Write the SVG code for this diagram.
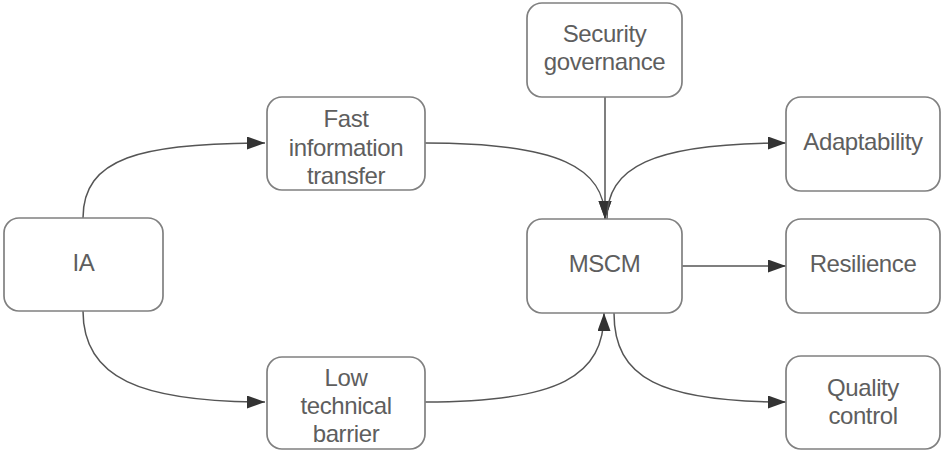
<svg xmlns="http://www.w3.org/2000/svg" width="951" height="450" viewBox="0 0 951 450">
  <style>
    .box { fill: #ffffff; stroke: #808080; stroke-width: 1.7; }
    .lbl { font-family: "Liberation Sans", Arial, sans-serif; font-size: 24px; letter-spacing: -0.4px; fill: #5e5e5e; text-anchor: middle; }
    .edge { fill: none; stroke: #555555; stroke-width: 1.5; }
  </style>
  <defs>
    <marker id="arrow" markerUnits="userSpaceOnUse" markerWidth="19" markerHeight="14" refX="18" refY="6.5" orient="auto">
      <path d="M0,0 L18,6.5 L0,13 z" fill="#333333"/>
    </marker>
  </defs>
  <rect width="951" height="450" fill="#ffffff"/>

  <g id="connectors">
    <path class="edge" d="M83,218 C83,158 140,143 265,143" marker-end="url(#arrow)"/>
    <path class="edge" d="M83,311 C83,378 140,402 265,402" marker-end="url(#arrow)"/>
    <path class="edge" d="M425,143 C560,143 605,168 605,219" marker-end="url(#arrow)"/>
    <path class="edge" d="M605,97 L605,219" marker-end="url(#arrow)"/>
    <path class="edge" d="M607,219 C607,168 650,143 786,143" marker-end="url(#arrow)"/>
    <path class="edge" d="M682,266 L786,266" marker-end="url(#arrow)"/>
    <path class="edge" d="M425,402 C560,402 604,376 604,313" marker-end="url(#arrow)"/>
    <path class="edge" d="M614,313 C614,378 660,402 786,402" marker-end="url(#arrow)"/>
  </g>

  <g id="node-ia">
    <rect class="box" x="4" y="218" width="159" height="93" rx="15"/>
    <text class="lbl" x="83.5" y="270.5">IA</text>
  </g>
  <g id="node-fast">
    <rect class="box" x="267" y="97" width="158" height="93" rx="15"/>
    <text class="lbl" x="346" y="126.5">Fast</text>
    <text class="lbl" x="346" y="155.5">information</text>
    <text class="lbl" x="346" y="183.5">transfer</text>
  </g>
  <g id="node-low">
    <rect class="box" x="267" y="357" width="158" height="92" rx="15"/>
    <text class="lbl" x="346" y="385.5">Low</text>
    <text class="lbl" x="346" y="414">technical</text>
    <text class="lbl" x="346" y="442">barrier</text>
  </g>
  <g id="node-security">
    <rect class="box" x="527" y="3" width="155" height="94" rx="15"/>
    <text class="lbl" x="604.5" y="42">Security</text>
    <text class="lbl" x="604.5" y="70">governance</text>
  </g>
  <g id="node-mscm">
    <rect class="box" x="527" y="219" width="155" height="94" rx="15"/>
    <text class="lbl" x="604.5" y="271.5">MSCM</text>
  </g>
  <g id="node-adaptability">
    <rect class="box" x="786" y="97" width="154" height="94" rx="15"/>
    <text class="lbl" x="863" y="150">Adaptability</text>
  </g>
  <g id="node-resilience">
    <rect class="box" x="786" y="219" width="154" height="94" rx="15"/>
    <text class="lbl" x="863" y="272">Resilience</text>
  </g>
  <g id="node-quality">
    <rect class="box" x="786" y="356" width="154" height="93" rx="15"/>
    <text class="lbl" x="863" y="396">Quality</text>
    <text class="lbl" x="863" y="424">control</text>
  </g>
</svg>
